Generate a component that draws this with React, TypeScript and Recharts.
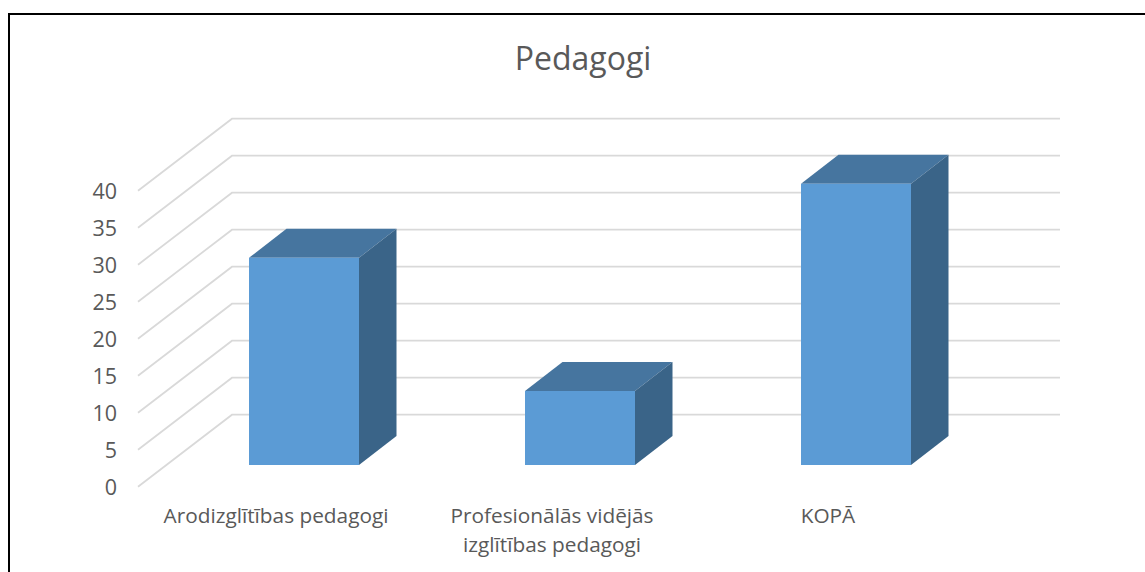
import { BarChart, Bar, XAxis, YAxis, CartesianGrid } from "recharts";

const categories = [
  "Arodizglītības pedagogi",
  "Profesionālās vidējās\nizglītības pedagogi",
  "KOPĀ",
];
const teachers = [28, 10, 38];
const yTicks = [0, 5, 10, 15, 20, 25, 30, 35, 40];

const data = categories.map((name, i) => ({ name, teachers: teachers[i] }));

const FONT = "'Open Sans', sans-serif";
const TEXT = "#595959";

// depth of the fake 3D box
const WALL_DX = 94;
const WALL_DY = -72;
const BAR_SHIFT_X = 28;
const BAR_SHIFT_Y = -21.7;
const BAR_DX = 37.5;
const BAR_DY = -29;

function GridLine(props: any) {
  const { x1, x2, y1, key } = props;
  const backY = y1 + WALL_DY;
  return (
    <path
      key={key}
      d={`M${x1},${y1} L${x1 + WALL_DX},${backY} L${x2 + WALL_DX},${backY}`}
      fill="none"
      stroke="#d9d9d9"
      strokeWidth={1.75}
    />
  );
}

function Box3D(props: any) {
  const { x, y, width, height } = props;
  const l = x + BAR_SHIFT_X;
  const r = l + width;
  const t = y + BAR_SHIFT_Y;
  const b = t + height;
  return (
    <g>
      <polygon
        points={`${l},${t} ${r},${t} ${r + BAR_DX},${t + BAR_DY} ${l + BAR_DX},${t + BAR_DY}`}
        fill="#46759f"
      />
      <polygon
        points={`${r},${t} ${r + BAR_DX},${t + BAR_DY} ${r + BAR_DX},${b + BAR_DY} ${r},${b}`}
        fill="#3a6488"
      />
      <rect x={l} y={t} width={width} height={height} fill="#5b9bd5" />
    </g>
  );
}

function CategoryTick({ x, y, payload }: any) {
  return (
    <text x={x} y={y + 34.5} textAnchor="middle" fill={TEXT} fontSize={20.8} fontFamily={FONT}>
      {String(payload.value)
        .split("\n")
        .map((line, i) => (
          <tspan key={line} x={x} dy={i === 0 ? 0 : 29}>
            {line}
          </tspan>
        ))}
    </text>
  );
}

export default function App() {
  return (
    <div style={{ position: "absolute", left: 0, top: 0, width: 1145, height: 572, background: "#fff", overflow: "hidden" }}>
      <div style={{ position: "absolute", left: 8, top: 13, width: 1137, height: 2, background: "#000" }} />
      <div style={{ position: "absolute", left: 8, top: 13, width: 2, height: 559, background: "#000" }} />
      <BarChart
        width={1145}
        height={572}
        data={data}
        margin={{ top: 190.7, right: 179, bottom: 0, left: 0 }}
        style={{ position: "absolute", left: 0, top: 0 }}
      >
        <CartesianGrid vertical={false} horizontal={GridLine} />
        <XAxis
          dataKey="name"
          axisLine={false}
          tickLine={false}
          tickSize={0}
          height={85.3}
          interval={0}
          tick={CategoryTick}
        />
        <YAxis
          width={138}
          domain={[0, 40]}
          ticks={yTicks}
          axisLine={false}
          tickLine={false}
          tickSize={0}
          tickMargin={21}
          tick={{ fill: TEXT, fontSize: 21.5, fontFamily: FONT, dy: 1 }}
        />
        <Bar dataKey="teachers" barSize={110} isAnimationActive={false} shape={Box3D} />
        <text x={583} y={69.5} textAnchor="middle" fill={TEXT} fontSize={32} fontFamily={FONT}>
          Pedagogi
        </text>
      </BarChart>
    </div>
  );
}
